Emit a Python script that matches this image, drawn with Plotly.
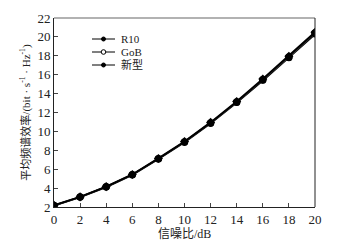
import plotly.graph_objects as go

snr = [0, 2, 4, 6, 8, 10, 12, 14, 16, 18, 20]
r10 = [2.15, 3.05, 4.12, 5.40, 7.08, 8.86, 10.87, 13.05, 15.40, 17.80, 20.30]
gob = [2.16, 3.06, 4.14, 5.42, 7.11, 8.89, 10.90, 13.10, 15.47, 17.88, 20.40]
xin = [2.17, 3.07, 4.16, 5.44, 7.14, 8.93, 10.95, 13.16, 15.54, 17.96, 20.48]
names = ["R10", "GoB", "新型"]
xticks = list(range(0, 21, 2))
yticks = list(range(2, 23, 2))

W, H = 354, 247
ML, MR, MT, MB = 46, 47, 10, 48   # body has 8px margin in the page
PW, PH = W - ML - MR, H - MT - MB

def px(x):
    return (x - ML) / PW

def py(y):
    return 1 - (y - MT) / PH

serif = "Liberation Serif, Noto Sans CJK SC"
styles = [
    dict(line=dict(color="black", width=2), marker=dict(symbol="circle", size=7, color="black")),
    dict(line=dict(color="#444444", width=1.5),
         marker=dict(symbol="circle-open", size=6, color="black", line=dict(width=1.5))),
    dict(line=dict(color="black", width=2), marker=dict(symbol="diamond", size=7, color="black")),
]

fig = go.Figure()
for name, ys, st in zip(names, [r10, gob, xin], styles):
    fig.add_trace(go.Scatter(x=snr, y=ys, name=name, mode="lines+markers",
                             showlegend=False, **st))

shapes = [
    dict(type="line", xref="paper", yref="paper", x0=0, x1=1, y0=1, y1=1,
         line=dict(color="#999", width=1.5)),
    dict(type="line", xref="paper", yref="paper", x0=1, x1=1, y0=0, y1=1,
         line=dict(color="#222", width=1)),
]
annotations = [
    dict(text="信噪比/dB", xref="paper", yref="paper", x=0.5, y=py(226),
         xanchor="center", yanchor="middle", showarrow=False,
         font=dict(size=12, family=serif, color="#222")),
]
leg_rows = [31, 44, 57]
for i, name in enumerate(names):
    yy = leg_rows[i]
    shapes.append(dict(type="line", xref="paper", yref="paper",
                       x0=px(84), x1=px(107), y0=py(yy), y1=py(yy),
                       line=dict(color="black", width=1)))
    r = 2 if i != 1 else 2.3
    shapes.append(dict(type="circle", xref="paper", yref="paper",
                       x0=px(95.5 - r), x1=px(95.5 + r), y0=py(yy - r), y1=py(yy + r),
                       line=dict(color="black", width=1),
                       fillcolor="white" if i == 1 else "black"))
    annotations.append(dict(text=name, xref="paper", yref="paper", x=px(111), y=py(yy),
                            xanchor="left", yanchor="middle", showarrow=False,
                            font=dict(size=11, family=serif, color="#222")))

fig.update_layout(
    width=W, height=H,
    margin=dict(l=ML, r=MR, t=MT, b=MB),
    paper_bgcolor="white", plot_bgcolor="white",
    font=dict(family=serif, size=13, color="#222"),
    showlegend=False,
    xaxis=dict(range=[0, 20], tickvals=xticks, ticks="inside", ticklen=4,
               showgrid=False, zeroline=False, showline=True, linecolor="#222",
               linewidth=1, automargin=False),
    yaxis=dict(range=[2, 22], tickvals=yticks, ticks="inside", ticklen=4,
               showgrid=False, zeroline=False, showline=True, linecolor="#222",
               linewidth=1, automargin=False,
               title=dict(text="平均频谱效率/(bit · s<sup>-1</sup> · Hz<sup>-1</sup>)",
                          font=dict(size=11), standoff=4)),
    shapes=shapes,
    annotations=annotations,
)

fig.write_html("out.html")
